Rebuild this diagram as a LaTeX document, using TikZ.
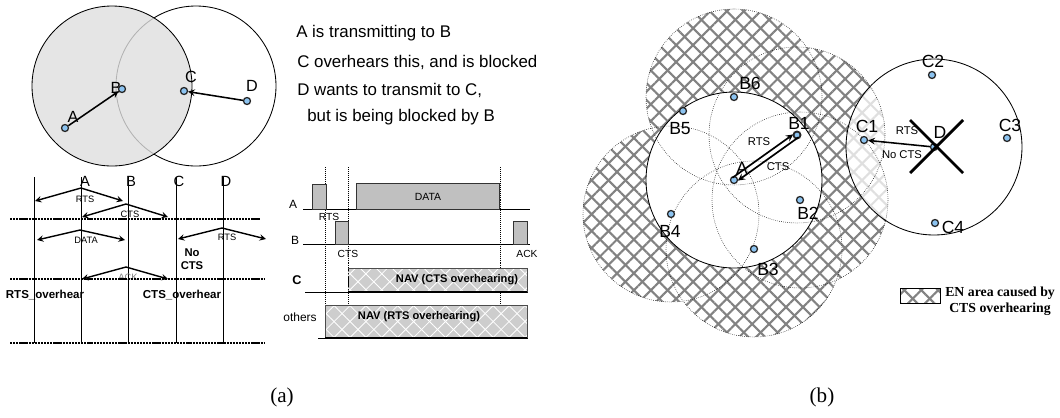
\documentclass[tikz,border=0pt]{standalone}
\usepackage{fontspec}
\setmainfont{Liberation Sans}
\newfontfamily\seriffont{Liberation Serif}
\usetikzlibrary{patterns.meta}

\definecolor{dotblue}{RGB}{140,195,240}
\definecolor{pktgray}{RGB}{192,192,192}
\definecolor{hatchgray}{RGB}{130,130,130}

\tikzset{
  dot/.style={circle, draw=black!85, fill=dotblue, line width=0.9pt, inner sep=0pt, minimum size=5pt},
  arr/.style={->, line width=1.1pt},
  biglbl/.style={font=\fontsize{11.5}{13}\selectfont, inner sep=0pt},
  note/.style={anchor=west, font=\fontsize{12}{13}\selectfont, inner sep=0pt},
  tlbl/.style={font=\fontsize{10.5}{12}\selectfont, inner sep=0pt},
  msg/.style={font=\fontsize{6.6}{7}\selectfont, inner sep=0pt},
  boldlbl/.style={font=\fontsize{8}{9.5}\selectfont\bfseries, inner sep=0pt},
  slot/.style={line width=1.4pt, dash pattern=on 1.6pt off 0.6pt},
  pkt/.style={fill=pktgray, draw=black!80, semithick},
  nav/.style={fill=pktgray!80, postaction={pattern={Lines[angle=45,distance=8pt,line width=0.6pt]}, pattern color=white},
    postaction={pattern={Lines[angle=-45,distance=8pt,line width=0.6pt]}, pattern color=white}},
  rowlbl/.style={font=\fontsize{8.5}{10}\selectfont, inner sep=0pt},
  navlbl/.style={font=\fontsize{7.9}{9}\selectfont\bfseries, inner sep=0pt},
  hatchA/.style={pattern={Lines[angle=45,distance=8.5pt,line width=1.5pt]}, pattern color=hatchgray},
  hatchB/.style={pattern={Lines[angle=-45,distance=8.5pt,line width=1.5pt]}, pattern color=hatchgray},
  nodelbl/.style={font=\fontsize{12.5}{13}\selectfont, inner sep=0pt},
  small/.style={font=\fontsize{8}{9}\selectfont, inner sep=0pt},
}

\begin{document}
\begin{tikzpicture}[x=0.025cm,y=-0.025cm,>=stealth]
  \useasboundingbox (0,0) rectangle (1060,417);

  % (a) top: the two ranges
  \draw[semithick] (196,86) circle[radius=80];
  \fill[gray!25, fill opacity=0.8] (112,86) circle[radius=80];
  \draw[semithick] (112,86) circle[radius=80];
  \node[biglbl] (labA) at (73,117) {A};
  \node[biglbl] (labB) at (116,88) {B};
  \node[biglbl] (labC) at (191,77) {C};
  \node[biglbl] (labD) at (252,86) {D};
  \node[dot] (A) at (65,128) {};
  \node[dot] (B) at (122,89) {};
  \node[dot] (C) at (184,91) {};
  \node[dot] (D) at (247,101) {};
  \draw[arr] (A) -- (B);
  \draw[arr] (D) -- (C);

  \node[note] (n1) at (296,33) {A is transmitting to B};
  \node[note] (n2) at (297,62) {C overhears this, and is blocked};
  \node[note] (n3) at (297,90) {D wants to transmit to C,};
  \node[note] (n4) at (307,117) {but is being blocked by B};

  % (a) bottom left: exchange
  \foreach \x in {34,81,128,176,223}
    \draw[semithick] (\x,177) -- (\x,343);
  \node[tlbl] (tA) at (85,181) {A};
  \node[tlbl] (tB) at (131,181) {B};
  \node[tlbl] (tC) at (179,181) {C};
  \node[tlbl] (tD) at (226,181) {D};
  \draw[<->, line width=1pt] (35,201) -- (81,188) -- (123,201);
  \node[msg] (m1) at (85,199) {RTS};
  \draw[<->, line width=1pt] (82,217) -- (126,204) -- (168,217);
  \node[msg] (m2) at (130,214) {CTS};
  \draw[slot] (10,219) -- (260,219);
  \draw[<->, line width=1pt] (37,240) -- (80,230) -- (125,240);
  \node[msg] (m3) at (86,240) {DATA};
  \draw[<->, line width=1pt] (178,239) -- (222,228) -- (266,239);
  \node[msg] (m4) at (227,237) {RTS};
  \node[boldlbl, align=center] (nocts) at (192,259) {No\\CTS};
  \draw[<->, line width=1pt] (82,279) -- (126,267) -- (168,279);
  \node[msg, text=gray] (m5) at (128,277) {ACK};
  \draw[slot] (10,279) -- (265,279);
  \node[boldlbl, font=\fontsize{8.2}{9}\selectfont\bfseries] (rtso) at (45,295) {RTS\_overhear};
  \node[boldlbl, font=\fontsize{8.2}{9}\selectfont\bfseries] (ctso) at (182,295) {CTS\_overhear};
  \draw[slot] (10,343) -- (265,343);

  % (a) bottom right: NAV
  \foreach \x in {325,348,500}
    \draw[densely dotted] (\x,167) -- (\x,338);
  \draw[semithick] (303,209) -- (530,209);
  \node[rowlbl] (rA) at (293,204) {A};
  \draw[pkt] (312,209) rectangle (326,184);
  \draw[pkt] (356,209) rectangle (499,183);
  \node[msg, font=\fontsize{7.4}{8}\selectfont] (dat) at (428,197) {DATA};
  \node[msg, font=\fontsize{7.3}{8}\selectfont] (rts) at (329,217) {RTS};
  \draw[semithick] (303,244) -- (530,244);
  \node[rowlbl] (rB) at (295,240) {B};
  \draw[pkt] (335,244) rectangle (348,221);
  \draw[pkt] (513,244) rectangle (527,221);
  \node[msg, font=\fontsize{7.3}{8}\selectfont] (cts) at (348,254) {CTS};
  \node[msg, font=\fontsize{7.3}{8}\selectfont] (ack) at (527,254) {ACK};
  \node[rowlbl, font=\fontsize{9}{10}\selectfont\bfseries] (rC) at (297,280) {C};
  \draw[semithick] (305,292) -- (348,292);
  \draw[nav] (348,292) rectangle (527,268);
  \draw[black!70, semithick] (348,268) -- (527,268) -- (527,292);
  \draw[line width=1.2pt] (348,292) -- (527,292);
  \node[navlbl] (nav1) at (457,280) {NAV (CTS overhearing)};
  \node[rowlbl] (rO) at (300,317) {others};
  \draw[semithick] (318,338) -- (325,338);
  \draw[nav] (325,338) rectangle (527,305);
  \draw[black!70, semithick] (325,338) -- (325,305) -- (527,305) -- (527,338);
  \draw[line width=1.2pt] (325,338) -- (527,338);
  \node[navlbl] (nav2) at (419,317) {NAV (RTS overhearing)};

  % (b) positions
  \coordinate (ac) at (734,180);
  \coordinate (b1c) at (797,135);
  \coordinate (b2c) at (800,200);
  \coordinate (b3c) at (754,249);
  \coordinate (b4c) at (671,214);
  \coordinate (b5c) at (683,111);
  \coordinate (b6c) at (734,97);
  \coordinate (dc) at (934,147);

  % EN areas, one union path so the hatch lines up
  \def\enarea{(b1c) circle[radius=88] (b2c) circle[radius=88] (b3c) circle[radius=88]
    (b4c) circle[radius=88] (b6c) circle[radius=88]}
  \fill[white] \enarea;
  \fill[hatchA] \enarea;
  \fill[hatchB] \enarea;
  \fill[white, fill opacity=0.75] (dc) circle[radius=88];
  \fill[white] (ac) circle[radius=88];
  \foreach \c in {b1c,b2c,b3c,b4c,b6c}
    \draw[densely dotted] (\c) circle[radius=88];
  \draw[semithick] (ac) circle[radius=88];
  \draw[semithick] (dc) circle[radius=88];

  % (b) labels and stations
  \node[nodelbl] (lA) at (742,168) {A};
  \node[nodelbl] (lB1) at (799,123) {B1};
  \node[nodelbl] (lB2) at (808,213) {B2};
  \node[nodelbl] (lB3) at (768,269) {B3};
  \node[nodelbl] (lB4) at (670,231) {B4};
  \node[nodelbl] (lB5) at (680,129) {B5};
  \node[nodelbl] (lB6) at (750,83) {B6};
  \node[nodelbl] (lC1) at (867,126) {C1};
  \node[nodelbl] (lC2) at (933,61) {C2};
  \node[nodelbl] (lC3) at (1010,125) {C3};
  \node[nodelbl] (lC4) at (953,227) {C4};
  \node[nodelbl] (lD) at (940,132) {D};
  \node[dot] (sA) at (ac) {};
  \node[dot, line width=1.3pt] (sB1) at (b1c) {};
  \node[dot] (sB2) at (b2c) {};
  \node[dot] (sB3) at (b3c) {};
  \node[dot] (sB4) at (b4c) {};
  \node[dot] (sB5) at (b5c) {};
  \node[dot] (sB6) at (b6c) {};
  \node[dot] (sC1) at (864,140) {};
  \node[dot] (sC2) at (932,75) {};
  \node[dot] (sC3) at (1007,138) {};
  \node[dot] (sC4) at (935,223) {};
  \node[dot] (sD) at (dc) {};

  \draw[arr, line width=1.2pt, shorten >=2pt] ([shift={(-1.6,-2.2)}]sA.center) -- ([shift={(-1.6,-2.2)}]sB1.center);
  \draw[arr, line width=1.2pt, shorten >=2pt] ([shift={(1.6,2.2)}]sB1.center) -- ([shift={(1.6,2.2)}]sA.center);
  \node[small] (rts1) at (759,142) {RTS};
  \node[small] (cts1) at (778,167) {CTS};
  \draw[arr] (sD) -- (sC1);
  \node[small] (rts2) at (907,131) {RTS};
  \node[small] (nocts2) at (902,155) {No CTS};
  \draw[line width=2pt] (910,120) -- (963,173);
  \draw[line width=2pt] (963,120) -- (910,173);

  % legend
  \fill[white] (900,288) rectangle (940,303);
  \fill[hatchA] (900,288) rectangle (940,303);
  \fill[hatchB] (900,288) rectangle (940,303);
  \draw (900,288) rectangle (940,303);
  \node[anchor=west, font=\seriffont\bfseries\fontsize{9.8}{11}\selectfont, inner sep=0pt] (leg1) at (945,293) {EN area caused by};
  \node[anchor=west, font=\seriffont\bfseries\fontsize{9.8}{11}\selectfont, inner sep=0pt] (leg2) at (949,309) {CTS overhearing};

  % captions
  \node[font=\seriffont\fontsize{15}{17}\selectfont] (capa) at (282,397) {(a)};
  \node[font=\seriffont\fontsize{15}{17}\selectfont] (capb) at (822,397) {(b)};
\end{tikzpicture}
\end{document}
